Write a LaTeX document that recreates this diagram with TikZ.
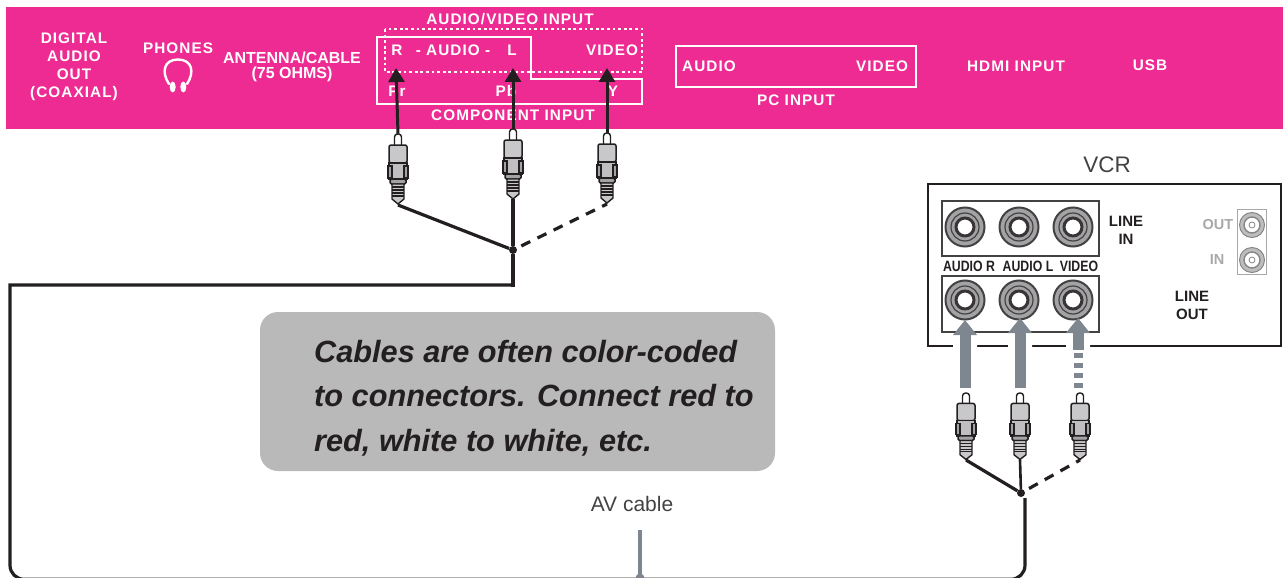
\documentclass[tikz,border=0pt]{standalone}
\usepackage{fontspec}
\setmainfont{Liberation Sans}
\newfontfamily\spaced[LetterSpace=7]{Liberation Sans}
\usetikzlibrary{arrows.meta}
\definecolor{pinkbar}{HTML}{EE2B92}
\definecolor{ink}{HTML}{231F20}
\definecolor{slate}{HTML}{7E8790}
\definecolor{capbox}{HTML}{B9B9B9}
\definecolor{ringg}{HTML}{A3A3A6}
\definecolor{faded}{HTML}{A8A8A8}
\tikzset{
  x=1pt,y=-1pt,
  white label/.style={text=white,font=\spaced\bfseries\fontsize{15.3}{18}\selectfont,inner sep=0pt,align=center},
  tight label/.style={text=white,font=\bfseries\fontsize{16}{15}\selectfont,inner sep=0pt,align=center},
  panel box/.style={draw=white,line width=2.2pt},
  black cable/.style={draw=ink,line width=3.2pt},
  dashed cable/.style={draw=ink,line width=3.2pt,dash pattern=on 10pt off 8pt,dash phase=13pt},
  black arrow/.style={draw=ink,line width=3pt,-{Triangle[length=14pt,width=16pt]}},
  gray arrow/.style={draw=slate,line width=11pt,-{Triangle[length=15pt,width=23pt]}},
  vcr label/.style={text=ink,font=\bfseries\fontsize{15}{18}\selectfont,inner sep=0pt,align=center},
  faded label/.style={text=faded,font=\bfseries\fontsize{14.5}{18}\selectfont,inner sep=0pt},
  jack dot/.style={circle,fill=ink,inner sep=0pt,minimum size=8pt},
  rcaplug/.pic={
    \draw[ink,line width=1.4pt,fill=white,rounded corners=3pt] (-3.5,12)--(-3.5,0)--(3.5,0)--(3.5,12);
    \draw[ink,line width=1.5pt,fill=ringg!60!white,rounded corners=2pt] (-9,29)--(-9,11)--(9,11)--(9,29)--cycle;
    \draw[ink,line width=1.5pt,fill=ringg!70!white] (-9,29) rectangle (9,45);
    \draw[ink,line width=1.3pt,fill=ringg] (-10,32) rectangle (-6,44) (6,32) rectangle (10,44);
    \draw[ink,line width=1.5pt,fill=ringg,rounded corners=1.5pt] (-8,45) rectangle (8,50);
    \draw[ink,line width=1.4pt,fill=ringg!60!white] (-6,50)--(-6,65)--(0,70)--(6,65)--(6,50)--cycle;
    \foreach \yy in {53,56,59,62}{\draw[ink,line width=1.1pt] (-6,\yy)--(6,\yy);}
  },
  avjack/.pic={
    \fill[ringg] (0,0) circle (20);
    \draw[ink!85!white,line width=2pt] (0,0) circle (19.5);
    \draw[ink!85!white,line width=1.2pt] (0,0) circle (14);
    \draw[ink!90!white,line width=3pt,fill=white] (0,0) circle (9);
  },
  rfjack/.pic={
    \fill[ringg!70!white] (0,0) circle (12.5);
    \draw[faded!80!black,line width=1pt] (0,0) circle (12.5);
    \draw[faded!80!black,line width=1.4pt,fill=white] (0,0) circle (8);
    \draw[faded!80!black,line width=.8pt] (0,0) circle (3);
  },
}
\begin{document}
\begin{tikzpicture}
\useasboundingbox (0,0) rectangle (1283,578);
\clip (0,0) rectangle (1283,578);
% panel
\fill[pinkbar] (6,7) rectangle (1283,129);
\node[white label] (digital) at (74,67) {DIGITAL\\AUDIO\\OUT\\(COAXIAL)};
\node[white label] (phones) at (178,48.5) {PHONES};
\draw[white,line width=2.4pt,line cap=round] (169,84) .. controls (161,72) and (164,59.5) .. (178,59.5) .. controls (192,59.5) and (195,72) .. (187,84);
\fill[white] (172.7,87) ellipse (3 and 5.5) (183.3,87) ellipse (3 and 5.5);
\node[tight label] (antenna) at (292,66.5) {ANTENNA/CABLE\\(75 OHMS)};
\node[white label] (avin) at (510,19.5) {AUDIO/VIDEO INPUT};
\draw[panel box] (377,37)--(531,37)--(531,79)--(642,79)--(642,104)--(377,104)--cycle;
\draw[white,line width=2.8pt,dash pattern=on 2.8pt off 2.8pt] (385,29) rectangle (642,72);
\node[white label] (rlab) at (397,50.5) {R};
\node[white label] (audlab) at (453,50.5) {- AUDIO -};
\node[white label] (llab) at (512,50.5) {L};
\node[white label] (vidlab) at (612,50.5) {VIDEO};
\node[white label] (prlab) at (397,91.5) {Pr};
\node[white label] (pblab) at (506,91.5) {Pb};
\node[white label] (ylab) at (613,91.5) {Y};
\node[white label] (complab) at (513,115) {COMPONENT INPUT};
\draw[panel box] (676,46) rectangle (916,87);
\node[white label] (pcaudio) at (709,66.5) {AUDIO};
\node[white label] (pcvideo) at (882,66.5) {VIDEO};
\node[white label] (pcin) at (796,100.5) {PC INPUT};
\node[white label] (hdmi) at (1016,66.5) {HDMI INPUT};
\node[white label] (usb) at (1150,65.5) {USB};
% plugs at the panel
\coordinate (pa) at (398,134);
\coordinate (pb) at (513,129);
\coordinate (pc) at (607,133);
\coordinate (pabot) at (398,205);
\coordinate (pbbot) at (513,199);
\coordinate (pcbot) at (607,204);
\pic at (pa) {rcaplug};
\pic at (pb) {rcaplug};
\pic at (pc) {rcaplug};
\coordinate (ra) at (396,68);
\coordinate (rb) at (513,68);
\coordinate (rc) at (607,68);
\draw[black arrow] (pa) -- (ra);
\draw[black arrow] (pb) -- (rb);
\draw[black arrow] (pc) -- (rc);
\node[jack dot] (tvj) at (513,250) {};
\draw[black cable] (pabot) -- (tvj);
\draw[dashed cable] (tvj) -- (pcbot);
\draw[draw=ink,line width=4.5pt] (pbbot) -- (tvj);
% main cable
\coordinate (vcrj2) at (1025,498);
\draw[draw=ink,line width=4pt] (tvj) -- (513,287);
\draw[black cable,line join=miter] (514.5,285) -- (10,285) {[rounded corners=14pt] -- (10,579.3) -- (1025,579.3) -- (vcrj2)};
\coordinate (avtop) at (640,530);
\coordinate (avbot) at (640,578);
\draw[draw=slate,line width=4pt] (avtop) -- (avbot);
\fill[slate] (640,578) circle (4.5);
\node[text=ink!85!white,font=\fontsize{21}{24}\selectfont,inner sep=0pt] (avlab) at (632,504) {AV cable};
% caption
\fill[capbox,rounded corners=18pt] (260,312) rectangle (775,471);
\node[anchor=west,align=left,inner sep=0pt,text=ink,font=\bfseries\itshape\fontsize{30.7}{44.5}\selectfont] (caption) at (314,398) {Cables are often color-coded\\to connectors. Connect red to\\red, white to white, etc.};
% VCR
\node[text=ink!85!white,font=\fontsize{22.5}{26}\selectfont,inner sep=0pt] (vcr) at (1107,165) {VCR};
\draw[ink,line width=2.4pt] (928,184) rectangle (1281,346);
\draw[ink!85!white,line width=1.1pt] (942,201) rectangle (1099,256);
\draw[ink!85!white,line width=1.1pt] (942,276) rectangle (1099,332);
\foreach \jx in {965,1019,1073}{
  \pic at (\jx,227) {avjack};
  \pic at (\jx,300) {avjack};
}
\node[vcr label] (ar) at (969,266) {\scalebox{.82}[1]{AUDIO R}};
\node[vcr label] (al) at (1028,266) {\scalebox{.82}[1]{AUDIO L}};
\node[vcr label] (vd) at (1079,266) {\scalebox{.82}[1]{VIDEO}};
\node[vcr label] (linein) at (1126,230) {LINE\\IN};
\node[vcr label] (lineout) at (1192,305) {LINE\\OUT};
\node[faded label] (outl) at (1218,225) {OUT};
\node[faded label] (inl) at (1217,260) {IN};
\draw[faded,line width=1pt] (1237,209) rectangle (1266,274);
\pic at (1252,225) {rfjack};
\pic at (1252,260) {rfjack};
% VCR plugs and arrows
\coordinate (qa) at (966,393);
\coordinate (qb) at (1020,393);
\coordinate (qc) at (1080,393);
\coordinate (qabot) at (966,460);
\coordinate (qbbot) at (1020,460);
\coordinate (qcbot) at (1080,460);
\pic[yscale=.95] at (qa) {rcaplug};
\pic[yscale=.95] at (qb) {rcaplug};
\pic[yscale=.95] at (qc) {rcaplug};
\coordinate (ga) at (965,388);
\coordinate (gb) at (1020,388);
\coordinate (gc) at (1078,388);
\coordinate (gcm) at (1078,350);
\coordinate (gat) at (965,320);
\coordinate (gbt) at (1020,318);
\coordinate (gct) at (1078,318);
\fill[white] (953,344) rectangle (977,348) (1008,344) rectangle (1032,348) (1066,344) rectangle (1090,348);
\draw[gray arrow] (ga) -- (gat);
\draw[gray arrow] (gb) -- (gbt);
\draw[draw=slate,line width=9pt,dash pattern=on 5pt off 5pt] (gc) -- (gcm);
\draw[gray arrow] (gcm) -- (gct);
\node[jack dot] (vj) at (1021,493) {};
\draw[black cable] (qabot) -- (vj);
\draw[draw=ink,line width=2.6pt] (qbbot) -- (vj);
\draw[dashed cable] (vj) -- (qcbot);
\end{tikzpicture}
\end{document}
